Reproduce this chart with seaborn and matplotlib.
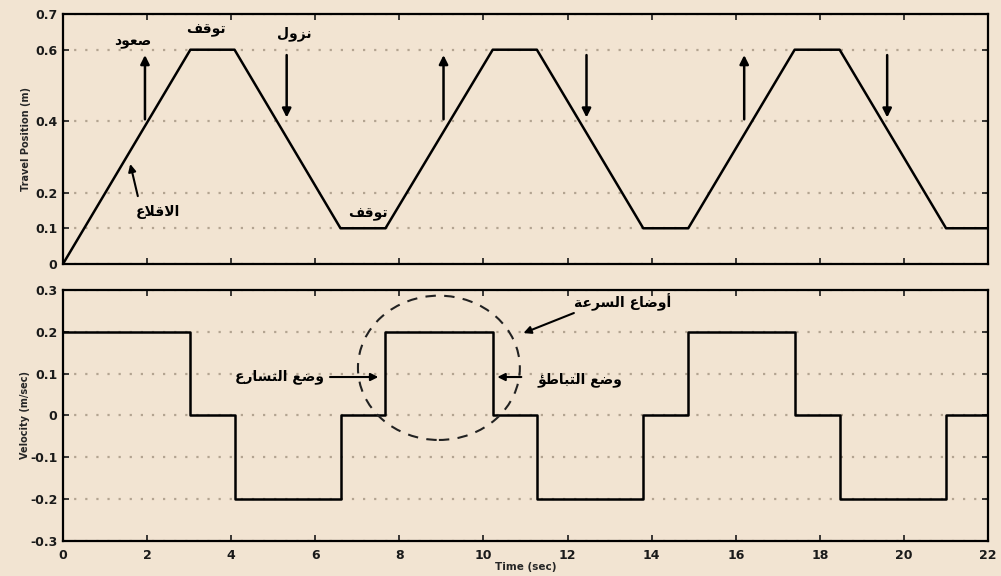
import matplotlib
matplotlib.use("Agg")
import matplotlib.pyplot as plt
import seaborn as sns
import pandas as pd
from matplotlib.patches import Ellipse

# ---------------- data ----------------
times = [0, 3.03, 4.08, 6.6, 7.67, 10.22, 11.27, 13.8, 14.87, 17.4, 18.47, 21.0, 22]
position = [0, 0.6, 0.6, 0.1, 0.1, 0.6, 0.6, 0.1, 0.1, 0.6, 0.6, 0.1, 0.1]
# velocity held from each time until the next one
velocity = [0.2, 0, -0.2, 0, 0.2, 0, -0.2, 0, 0.2, 0, -0.2, 0, 0]

x_ticks = list(range(0, 23, 2))
pos_ticks = [0, 0.1, 0.2, 0.4, 0.6, 0.7]
pos_tick_labels = ["0", "0.1", "0.2", "0.4", "0.6", "0.7"]
vel_ticks = [-0.3, -0.2, -0.1, 0, 0.1, 0.2, 0.3]
vel_tick_labels = ["-0.3", "-0.2", "-0.1", "0", "0.1", "0.2", "0.3"]

up_arrow_x = [1.95, 9.05, 16.2]
down_arrow_x = [5.32, 12.45, 19.6]

# ---------------- Arabic shaping (presentation forms, RTL) ----------------
FORMS = {
    'ا': (0xFE8D, 0xFE8E, None, None),
    'أ': (0xFE83, 0xFE84, None, None),
    'ؤ': (0xFE85, 0xFE86, None, None),
    'ب': (0xFE8F, 0xFE90, 0xFE91, 0xFE92),
    'ة': (0xFE93, 0xFE94, None, None),
    'ت': (0xFE95, 0xFE96, 0xFE97, 0xFE98),
    'د': (0xFEA9, 0xFEAA, None, None),
    'ر': (0xFEAD, 0xFEAE, None, None),
    'ز': (0xFEAF, 0xFEB0, None, None),
    'س': (0xFEB1, 0xFEB2, 0xFEB3, 0xFEB4),
    'ص': (0xFEB9, 0xFEBA, 0xFEBB, 0xFEBC),
    'ض': (0xFEBD, 0xFEBE, 0xFEBF, 0xFEC0),
    'ط': (0xFEC1, 0xFEC2, 0xFEC3, 0xFEC4),
    'ع': (0xFEC9, 0xFECA, 0xFECB, 0xFECC),
    'ف': (0xFED1, 0xFED2, 0xFED3, 0xFED4),
    'ق': (0xFED5, 0xFED6, 0xFED7, 0xFED8),
    'ل': (0xFEDD, 0xFEDE, 0xFEDF, 0xFEE0),
    'ن': (0xFEE5, 0xFEE6, 0xFEE7, 0xFEE8),
    'و': (0xFEED, 0xFEEE, None, None),
    'لا': (0xFEFB, 0xFEFC, None, None),
    'لأ': (0xFEF7, 0xFEF8, None, None),
}


def shape(text):
    words = []
    for word in text.split(' '):
        toks, i = [], 0
        while i < len(word):
            if word[i] == 'ل' and i + 1 < len(word) and word[i + 1] in 'اأ':
                toks.append(word[i:i + 2]); i += 2
            else:
                toks.append(word[i]); i += 1
        res = []
        for j, t in enumerate(toks):
            f = FORMS.get(t)
            if f is None:
                res.append(t); continue
            jp = j > 0 and FORMS.get(toks[j - 1], (0, 0, None, None))[2] is not None
            jn = j + 1 < len(toks) and f[2] is not None
            if jp and jn:
                c = f[3]
            elif jp:
                c = f[1]
            elif jn:
                c = f[2]
            else:
                c = f[0]
            res.append(chr(c))
        words.append(''.join(reversed(res)))
    return ' '.join(reversed(words))


# ---------------- style ----------------
BG = "#f2e4d2"
GRID = "#b3a491"
sns.set_theme(style="ticks")
plt.rcParams['font.family'] = ['DejaVu Sans']
plt.rcParams.update({
    "figure.facecolor": BG, "axes.facecolor": BG, "savefig.facecolor": BG,
    "axes.edgecolor": "black", "axes.linewidth": 1.6,
})

fig = plt.figure(figsize=(10.01, 5.76), dpi=100)
ax1 = fig.add_axes([0.0629, 0.5417, 0.9242, 0.4340])
ax2 = fig.add_axes([0.0629, 0.0608, 0.9242, 0.4357])

pos_df = pd.DataFrame({"t": times, "pos": position})
vel_df = pd.DataFrame({"t": times, "vel": velocity})

sns.lineplot(data=pos_df, x="t", y="pos", ax=ax1, color="black", lw=1.8,
             estimator=None, sort=False, zorder=3)
sns.lineplot(data=vel_df, x="t", y="vel", ax=ax2, color="black", lw=1.8,
             estimator=None, sort=False, drawstyle="steps-post", zorder=3)

tick_font = dict(fontsize=9, fontweight="bold", color="#1a1a1a")
for ax in (ax1, ax2):
    ax.set_xlim(0, 22)
    ax.set_xticks(x_ticks)
    ax.tick_params(direction="in", top=True, right=True, length=4, width=1.2,
                   pad=4, colors="#1a1a1a")
    ax.grid(axis="y", linestyle=(0, (1, 4)), color=GRID, lw=1.6, zorder=0)
    ax.grid(axis="x", visible=False)
    for s in ax.spines.values():
        s.set_visible(True)
        s.set_linewidth(1.6)

ax1.set_ylim(0, 0.7)
ax1.set_yticks(pos_ticks)
ax1.set_yticklabels(pos_tick_labels, **tick_font)
ax1.set_xticklabels([])
ax1.set_xlabel("")
ax1.set_ylabel("Travel Position (m)", fontsize=7, fontweight="bold", labelpad=3)

ax2.set_ylim(-0.3, 0.3)
ax2.set_yticks(vel_ticks)
ax2.set_yticklabels(vel_tick_labels, **tick_font)
ax2.set_xticklabels([str(v) for v in x_ticks], **tick_font)
ax2.tick_params(axis="x", pad=6)
ax2.set_xlabel("Time (sec)", fontsize=7.5, fontweight="bold", labelpad=0)
ax2.set_ylabel("Velocity (m/sec)", fontsize=7, fontweight="bold", labelpad=0)

arrow = dict(arrowstyle="-|>", lw=1.8, color="black", mutation_scale=13,
             shrinkA=0, shrinkB=0)
ar_font = dict(fontsize=10, fontweight="bold", family=["DejaVu Sans"],
               ha="center", va="center", color="black")

# ---- top annotations ----
for x in up_arrow_x:
    ax1.annotate("", xy=(x, 0.585), xytext=(x, 0.405), arrowprops=arrow)
for x in down_arrow_x:
    ax1.annotate("", xy=(x, 0.41), xytext=(x, 0.585), arrowprops=arrow)
ax1.text(1.65, 0.625, shape("صعود"), **ar_font)
ax1.text(3.4, 0.655, shape("توقف"), **ar_font)
ax1.text(5.5, 0.645, shape("نزول"), **ar_font)
ax1.text(7.25, 0.14, shape("توقف"), **ar_font)
ax1.annotate("", xy=(1.6, 0.28), xytext=(1.78, 0.19),
             arrowprops=dict(arrow, lw=1.5, mutation_scale=11))
ax1.text(2.25, 0.145, shape("الاقلاع"), **ar_font)

# ---- bottom annotations ----
ax2.add_patch(Ellipse((8.94, 0.114), 3.85, 0.345, fill=False, ls=(0, (5, 4)),
                      lw=1.5, color="#222222", zorder=4))
ax2.text(13.3, 0.272, shape("أوضاع السرعة"), **ar_font)
ax2.annotate("", xy=(10.95, 0.197), xytext=(12.15, 0.245),
             arrowprops=dict(arrow, lw=1.5, mutation_scale=11))
ax2.text(5.15, 0.092, shape("وضع التسارع"), **ar_font)
ax2.annotate("", xy=(7.5, 0.092), xytext=(6.35, 0.092),
             arrowprops=dict(arrow, lw=1.5, mutation_scale=11))
ax2.text(12.3, 0.085, shape("وضع التباطؤ"), **ar_font)
ax2.annotate("", xy=(10.33, 0.092), xytext=(10.9, 0.092),
             arrowprops=dict(arrow, lw=1.5, mutation_scale=11))

fig.savefig("out.png", dpi=100, facecolor=BG)
